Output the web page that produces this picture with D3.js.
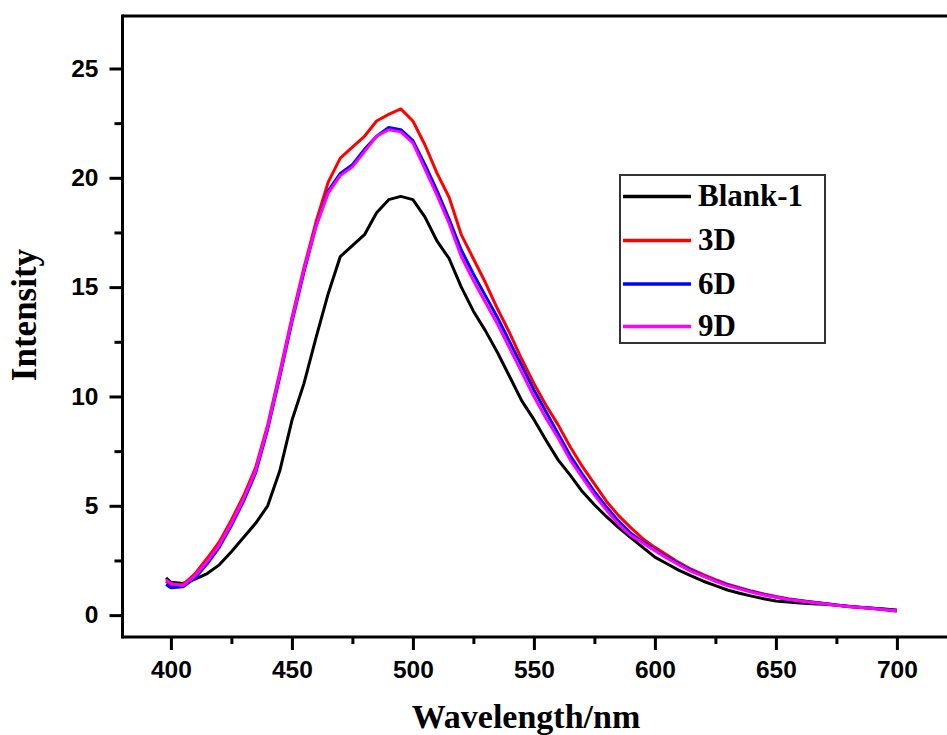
<!DOCTYPE html>
<html>
<head>
<meta charset="utf-8">
<script src="https://cdn.jsdelivr.net/npm/d3@7"></script>
<style>
  html, body { margin: 0; padding: 0; background: #fff; }
  svg { display: block; }
</style>
</head>
<body>
<svg id="chart" width="947" height="735"></svg>
<script>
// ---- data ----
const wavelengths = [398,400,405,410,415,420,425,430,435,440,445,450,455,460,465,470,475,480,485,490,495,500,505,510,515,520,525,530,535,540,545,550,555,560,565,570,575,580,585,590,595,600,605,610,615,620,625,630,635,640,645,650,655,660,665,670,675,680,685,690,695,700];

const blank1 = [1.70,1.50,1.45,1.65,1.90,2.30,2.90,3.55,4.20,5.00,6.60,8.90,10.60,12.70,14.70,16.40,16.90,17.40,18.40,19.00,19.15,19.00,18.20,17.10,16.30,15.00,13.90,13.00,12.00,10.90,9.80,8.95,8.00,7.10,6.40,5.65,5.05,4.50,4.00,3.55,3.10,2.65,2.35,2.05,1.80,1.55,1.35,1.15,1.00,0.87,0.75,0.65,0.60,0.55,0.52,0.50,0.45,0.40,0.35,0.32,0.28,0.22];

const d3Series = [1.55,1.40,1.40,1.90,2.60,3.35,4.35,5.45,6.75,8.70,11.10,13.60,15.90,18.00,19.80,20.90,21.40,21.90,22.60,22.90,23.15,22.60,21.50,20.20,19.10,17.40,16.30,15.20,14.00,12.90,11.70,10.60,9.60,8.70,7.70,6.80,6.00,5.20,4.55,4.00,3.50,3.10,2.75,2.40,2.10,1.85,1.62,1.42,1.25,1.10,0.97,0.85,0.75,0.67,0.60,0.53,0.46,0.40,0.35,0.30,0.25,0.18];

const d6Series = [1.40,1.25,1.30,1.70,2.35,3.10,4.10,5.20,6.50,8.50,10.90,13.40,15.70,17.80,19.40,20.20,20.60,21.30,21.90,22.30,22.20,21.70,20.60,19.40,18.10,16.70,15.60,14.60,13.60,12.50,11.40,10.30,9.30,8.30,7.30,6.45,5.65,4.95,4.30,3.75,3.35,3.00,2.65,2.35,2.05,1.80,1.58,1.38,1.22,1.07,0.94,0.83,0.73,0.66,0.59,0.53,0.46,0.41,0.36,0.31,0.26,0.22];

const d9Series = [1.62,1.45,1.35,1.80,2.45,3.20,4.20,5.30,6.60,8.60,11.00,13.50,15.80,17.80,19.30,20.10,20.50,21.20,21.90,22.20,22.10,21.60,20.40,19.20,17.90,16.40,15.30,14.30,13.30,12.20,11.10,10.00,9.00,8.10,7.10,6.30,5.50,4.80,4.15,3.65,3.30,2.95,2.60,2.30,2.00,1.78,1.55,1.35,1.20,1.05,0.92,0.82,0.72,0.65,0.58,0.52,0.45,0.40,0.35,0.30,0.25,0.20];

const seriesNames = ["Blank-1","3D","6D","9D"];
const seriesColors = ["#000000","#ff0000","#0000ff","#ff00ff"];
const seriesValues = [blank1, d3Series, d6Series, d9Series];

const xMajorTicks = [400,450,500,550,600,650,700];
const xMinorTicks = [425,475,525,575,625,675];
const yMajorTicks = [0,5,10,15,20,25];
const yMinorTicks = [2.5,7.5,12.5,17.5,22.5];

// ---- layout ----
const svg = d3.select("#chart");
const plotLeft = 122.5, plotTop = 16, plotBottom = 637;
const x = d3.scaleLinear().domain([380, 730]).range([plotLeft, plotLeft + 350 * 2.42]);
const y = d3.scaleLinear().domain([-1, 27.4]).range([plotBottom, plotTop]);

const tickFont = "'Liberation Sans', Arial, sans-serif";
const titleFont = "'Liberation Serif', 'Times New Roman', serif";

svg.append("defs").append("clipPath").attr("id","clip")
  .append("rect").attr("x", plotLeft).attr("y", plotTop).attr("width", 947 - plotLeft).attr("height", plotBottom - plotTop);

// series
const line = d3.line().x((d, i) => x(wavelengths[i])).y(d => y(d));
const g = svg.append("g").attr("clip-path","url(#clip)");
seriesValues.forEach((vals, k) => {
  g.append("path").datum(vals)
    .attr("d", line)
    .attr("fill","none")
    .attr("stroke", seriesColors[k])
    .attr("stroke-width", 3)
    .attr("stroke-linejoin","round");
});

// top frame line
svg.append("line").attr("x1", plotLeft).attr("x2", 947).attr("y1", plotTop).attr("y2", plotTop)
  .attr("stroke","#000").attr("stroke-width",3);

// x axis
const xAxisG = svg.append("g").attr("transform", `translate(0,${plotBottom})`)
  .call(d3.axisBottom(x).tickValues(xMajorTicks).tickSize(13).tickSizeOuter(0).tickPadding(11).tickFormat(d3.format("d")));
svg.append("g").attr("transform", `translate(0,${plotBottom})`)
  .call(d3.axisBottom(x).tickValues(xMinorTicks).tickSize(7).tickSizeOuter(0).tickFormat(""))
  .select(".domain").remove();

// y axis
const yAxisG = svg.append("g").attr("transform", `translate(${plotLeft},0)`)
  .call(d3.axisLeft(y).tickValues(yMajorTicks).tickSize(13).tickSizeOuter(0).tickPadding(11).tickFormat(d3.format("d")));
svg.append("g").attr("transform", `translate(${plotLeft},0)`)
  .call(d3.axisLeft(y).tickValues(yMinorTicks).tickSize(8).tickSizeOuter(0).tickFormat(""))
  .select(".domain").remove();

svg.selectAll(".domain").attr("stroke","#000").attr("stroke-width",3);
svg.selectAll(".tick line").attr("stroke","#000").attr("stroke-width",3);
svg.selectAll(".tick text")
  .attr("font-family", tickFont)
  .attr("font-weight","bold")
  .attr("font-size", 24.5)
  .attr("fill","#000");

xAxisG.select(".domain").attr("d", `M${plotLeft},0H947`);
yAxisG.select(".domain").attr("d", `M0,${plotTop - 1.5}V${plotBottom + 1.5}`);

// axis titles
svg.append("text")
  .attr("x", 526).attr("y", 728)
  .attr("text-anchor","middle")
  .attr("font-family", titleFont).attr("font-weight","bold").attr("font-size", 34)
  .text("Wavelength/nm");

svg.append("text")
  .attr("transform","translate(36,315) rotate(-90)")
  .attr("text-anchor","middle")
  .attr("font-family", titleFont).attr("font-weight","bold").attr("font-size", 35)
  .text("Intensity");

// legend
const legend = svg.append("g");
legend.append("rect")
  .attr("x", 620).attr("y", 175).attr("width", 205).attr("height", 168)
  .attr("fill","#fff").attr("stroke","#333").attr("stroke-width", 2);
const legendYs = [196.5, 240.5, 284, 326.5];
seriesNames.forEach((name, k) => {
  legend.append("line")
    .attr("x1", 623).attr("x2", 691)
    .attr("y1", legendYs[k]).attr("y2", legendYs[k])
    .attr("stroke", seriesColors[k]).attr("stroke-width", 3.5);
  legend.append("text")
    .attr("x", 698).attr("y", legendYs[k] + 9.5)
    .attr("font-family", titleFont).attr("font-weight","bold").attr("font-size", 31)
    .attr("fill","#000")
    .text(name);
});
</script>
</body>
</html>
